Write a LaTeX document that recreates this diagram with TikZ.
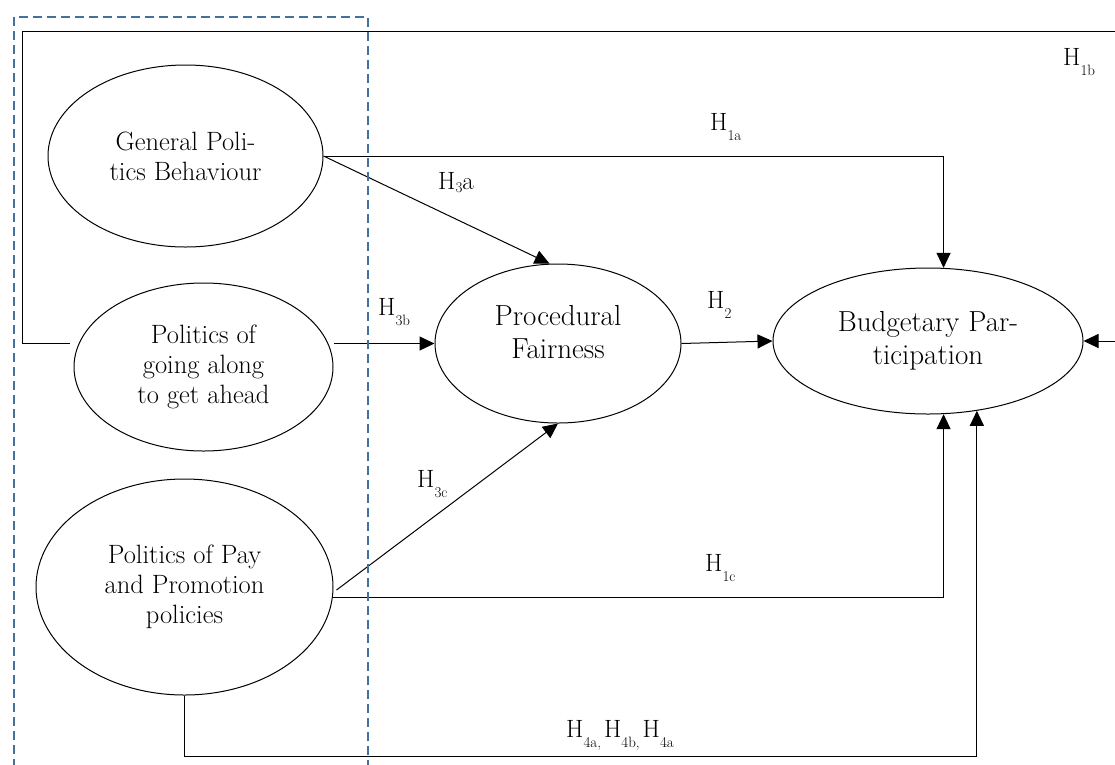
\documentclass[tikz,border=0pt]{standalone}
\usepackage{fontspec}
\usetikzlibrary{arrows.meta,shapes.geometric,calc}
\definecolor{dashblue}{RGB}{65,113,156}
\newcommand\lsub[1]{\raisebox{-0.42em}{\fontsize{15}{15}\selectfont #1}}
\newcommand\msub[1]{\raisebox{-0.12em}{\fontsize{15}{15}\selectfont #1}}
\begin{document}
\begin{tikzpicture}[x=1pt,y=-1pt,
  ell/.style={draw, ellipse, line width=1pt, inner sep=0pt, align=center},
  big/.style={font=\fontsize{29}{33}\selectfont},
  mid/.style={font=\fontsize{26.5}{30}\selectfont},
  conn/.style={line width=1pt},
  arr/.style={conn, -{Triangle[length=15pt,width=14pt]}},
  hlab/.style={anchor=base west, inner sep=0pt, font=\fontsize{25}{25}\selectfont},
  dashbox/.style={draw=dashblue, line width=2pt, dash pattern=on 9pt off 5pt}]
\useasboundingbox (0,0) rectangle (1115,764);
\clip (0,0) rectangle (1115,764);

% ellipses
\node[ell, mid, minimum width=275pt, minimum height=182pt] (gpb) at (185.5,156) {General Poli-\\tics Behaviour};
\node[ell, mid, minimum width=259pt, minimum height=168pt] (pga) at (203.5,367) {Politics of\\going along\\to get ahead};
\node[ell, mid, minimum width=297pt, minimum height=216pt] (ppp) at (184.5,587) {Politics of Pay\\and Promotion\\policies};
\node[ell, big, minimum width=246pt, minimum height=159pt] (pf) at (558,343.5) {Procedural\\Fairness\rule[-24pt]{0pt}{0pt}};
\node[ell, big, minimum width=310pt, minimum height=146pt] (bp) at (928,341) {Budgetary Par-\\ticipation};

% connectors
\coordinate (h1bstart) at ($(pga.west |- bp.east)+(-4,2)$);
\draw[arr] (h1bstart) -- (22,343) -- (22,31) -- (1140,31) -- (1140,341) -- (bp.east);
\draw[arr] (gpb.east) -| (bp.78);
\draw[arr] (gpb.east) -- (pf.96);
\draw[arr] (pga.east |- pf.west) -- (pf.west);
\draw[arr] (pf.east) -- (bp.west);
\coordinate (h3cstart) at ($(ppp.east)+(3,3)$);
\draw[arr] (h3cstart) -- (pf.south);
\draw[arr] (ppp.-4) -| (bp.-78);
\draw[arr] (ppp.south) -- ++(0,61) -| (bp.-55);

% labels
\node[hlab] (l1b) at (1063,65) {H\lsub{1b}};
\node[hlab] (l1a) at (710,130) {H\lsub{1a}};
\node[hlab] (l3a) at (438,189) {H\msub{3}a};
\node[hlab] (l3b) at (378,315) {H\lsub{3b}};
\node[hlab] (l2) at (707,308) {H\lsub{2}};
\node[hlab] (l3c) at (417,487) {H\lsub{3c}};
\node[hlab] (l1c) at (705,571) {H\lsub{1c}};
\node[hlab] (l4) at (566,737) {H\lsub{4a,}\hspace{3pt}H\lsub{4b,}\hspace{3pt}H\lsub{4a}};

% dashed grouping box
\draw[dashbox] (14,17) rectangle (368,790);
\end{tikzpicture}
\end{document}
